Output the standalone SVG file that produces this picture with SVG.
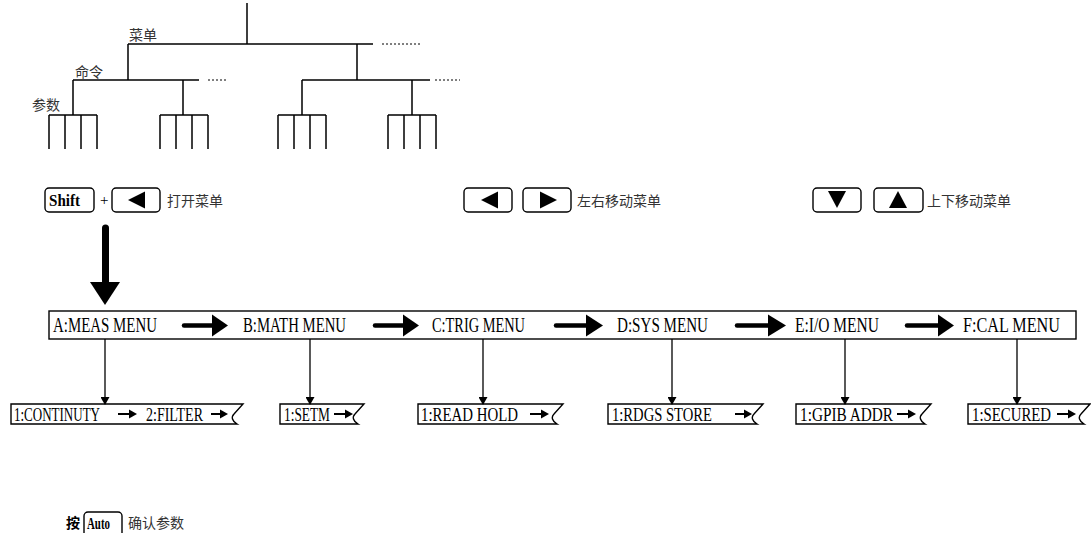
<svg xmlns="http://www.w3.org/2000/svg" width="1091" height="533" viewBox="0 0 1091 533">
<style>
.ln{stroke:#000;stroke-width:1.5;fill:none}
.dot{stroke:#000;stroke-width:1;fill:none;stroke-dasharray:2 2}
.cjk{font-family:"Noto Sans CJK SC","Noto Sans",sans-serif;font-size:14px;fill:#333}
.key{fill:#fff;stroke:#000;stroke-width:1.4}
.kt{font-family:"Liberation Serif",serif;font-weight:bold;font-size:16px}
.mt{font-family:"Liberation Serif",serif;font-size:20px}
.st{font-family:"Liberation Serif",serif;font-size:18px}
.box{fill:#fff;stroke:#000;stroke-width:1.4}
.thin{stroke:#000;stroke-width:1.3;fill:none}
</style>
<defs>
<marker id="ah" markerWidth="8" markerHeight="9" refX="7" refY="4.5" orient="auto" markerUnits="userSpaceOnUse">
<path d="M0,0 L8,4.5 L0,9 Z" fill="#000"/>
</marker>
</defs>
<rect width="1091" height="533" fill="#fff"/>

<g id="tree">
<path class="ln" d="M247,3V44 M128,44H373 M128,44V80 M357,44V80 M73,80H199 M302,80H430 M73,80V115 M183,80V115 M302,80V115 M412,80V115"/>
<path class="dot" d="M382,44H420 M208,80H228 M435,80H460"/>
<path class="ln" d="M49,115H97 M49,115V149 M65,115V149 M81,115V149 M97,115V149"/>
<path class="ln" d="M160,115H208 M160,115V149 M176,115V149 M192,115V149 M208,115V149"/>
<path class="ln" d="M278,115H326 M278,115V149 M294,115V149 M310,115V149 M326,115V149"/>
<path class="ln" d="M388,115H436 M388,115V149 M404,115V149 M420,115V149 M436,115V149"/>
<text class="cjk" x="129" y="40">菜单</text>
<text class="cjk" x="75" y="77">命令</text>
<text class="cjk" x="32" y="110">参数</text>
</g>

<g id="open-menu">
<rect class="key" x="45" y="188" width="49" height="24" rx="4"/>
<text class="kt" x="49" y="205.5" textLength="31" lengthAdjust="spacingAndGlyphs">Shift</text>
<text x="100" y="205" font-family="Liberation Serif,serif" font-size="15">+</text>
<rect class="key" x="112" y="188" width="48" height="24" rx="4"/>
<path d="M128,200 L145,191.5 L145,208.5 Z" fill="#000"/>
<text class="cjk" x="167" y="206" font-size="15">打开菜单</text>
</g>

<g id="left-right">
<rect class="key" x="464" y="188" width="48" height="24" rx="4"/>
<path d="M481,200 L498,191.5 L498,208.5 Z" fill="#000"/>
<rect class="key" x="523" y="188" width="48" height="24" rx="4"/>
<path d="M557,200 L540,191.5 L540,208.5 Z" fill="#000"/>
<text class="cjk" x="577" y="206" font-size="15">左右移动菜单</text>
</g>

<g id="up-down">
<rect class="key" x="813" y="188" width="48" height="24" rx="4"/>
<path d="M828,191 L846,191 L837,208 Z" fill="#000"/>
<rect class="key" x="874" y="188" width="49" height="24" rx="4"/>
<path d="M889,208 L907,208 L898,191 Z" fill="#000"/>
<text class="cjk" x="927" y="206" font-size="15">上下移动菜单</text>
</g>

<g id="menu-bar">
<rect class="box" x="49" y="311" width="1027" height="28"/>
</g>
<g id="menu-a"><text class="mt" x="53" y="332" textLength="104" lengthAdjust="spacingAndGlyphs">A:MEAS MENU</text></g>
<g id="menu-b"><text class="mt" x="243" y="332" textLength="103" lengthAdjust="spacingAndGlyphs">B:MATH MENU</text></g>
<g id="menu-c"><text class="mt" x="432" y="332" textLength="93" lengthAdjust="spacingAndGlyphs">C:TRIG MENU</text></g>
<g id="menu-d"><text class="mt" x="617" y="332" textLength="91" lengthAdjust="spacingAndGlyphs">D:SYS MENU</text></g>
<g id="menu-e"><text class="mt" x="795" y="332" textLength="84" lengthAdjust="spacingAndGlyphs">E:I/O MENU</text></g>
<g id="menu-f"><text class="mt" x="963" y="332" textLength="97" lengthAdjust="spacingAndGlyphs">F:CAL MENU</text></g>

<g id="sub-a">
<path class="box" d="M243,404 H11 V424 H237 C232,421 231,417 234,414 Z"/>
<text class="st" x="14" y="421" textLength="86" lengthAdjust="spacingAndGlyphs">1:CONTINUTY</text>
<text class="st" x="146" y="421" textLength="57" lengthAdjust="spacingAndGlyphs">2:FILTER</text>
<path d="M118,414H130" stroke="#000" stroke-width="2"/><path d="M129,409.5 L137,414 L129,418.5 Z"/>
<path d="M211,414H221" stroke="#000" stroke-width="2"/><path d="M220,409.5 L228,414 L220,418.5 Z"/>
</g>
<g id="sub-b">
<path class="box" d="M364,404 H280 V424 H358 C353,421 352,417 355,414 Z"/>
<text class="st" x="284" y="421" textLength="46" lengthAdjust="spacingAndGlyphs">1:SETM</text>
<path d="M334,414H346" stroke="#000" stroke-width="2"/><path d="M345,409.5 L353,414 L345,418.5 Z"/>
</g>
<g id="sub-c">
<path class="box" d="M563,404 H418 V424 H557 C552,421 551,417 554,414 Z"/>
<text class="st" x="421" y="421" textLength="97" lengthAdjust="spacingAndGlyphs">1:READ HOLD</text>
<path d="M530,414H542" stroke="#000" stroke-width="2"/><path d="M541,409.5 L549,414 L541,418.5 Z"/>
</g>
<g id="sub-d">
<path class="box" d="M763,404 H608 V424 H757 C752,421 751,417 754,414 Z"/>
<text class="st" x="612" y="421" textLength="100" lengthAdjust="spacingAndGlyphs">1:RDGS STORE</text>
<path d="M735,414H745" stroke="#000" stroke-width="2"/><path d="M744,409.5 L752,414 L744,418.5 Z"/>
</g>
<g id="sub-e">
<path class="box" d="M931,404 H796 V424 H925 C920,421 919,417 922,414 Z"/>
<text class="st" x="800" y="421" textLength="93" lengthAdjust="spacingAndGlyphs">1:GPIB ADDR</text>
<path d="M897,414H909" stroke="#000" stroke-width="2"/><path d="M908,409.5 L916,414 L908,418.5 Z"/>
</g>
<g id="sub-f">
<path class="box" d="M1090,404 H968 V424 H1084 C1079,421 1078,417 1081,414 Z"/>
<text class="st" x="972" y="421" textLength="79" lengthAdjust="spacingAndGlyphs">1:SECURED</text>
<path d="M1057,414H1069" stroke="#000" stroke-width="2"/><path d="M1068,409.5 L1076,414 L1068,418.5 Z"/>
</g>

<g id="confirm">
<text x="66" y="528" font-family="Noto Sans CJK SC,sans-serif" font-weight="bold" font-size="14">按</text>
<rect class="key" x="84" y="512" width="38" height="34" rx="4"/>
<text class="kt" x="87" y="529" textLength="23" lengthAdjust="spacingAndGlyphs">Auto</text>
<text class="cjk" x="128" y="528" font-size="15">确认参数</text>
</g>

<g id="connectors">
<path d="M105.5,228 V284" stroke="#000" stroke-width="7" stroke-linecap="round"/>
<path d="M90,282 L120,282 L105,305 Z" fill="#000"/>
<g stroke="#000" stroke-width="4.5" stroke-linecap="round">
<path d="M184,325.5H214"/><path d="M375,325.5H404"/><path d="M556,325.5H587"/><path d="M737,325.5H769"/><path d="M907,325.5H939"/>
</g>
<g fill="#000">
<path d="M212,314.5 L228,325.5 L212,336.5 Z"/>
<path d="M403,314.5 L419,325.5 L403,336.5 Z"/>
<path d="M586,314.5 L603,325.5 L586,336.5 Z"/>
<path d="M768,314.5 L786,325.5 L768,336.5 Z"/>
<path d="M938,314.5 L954,325.5 L938,336.5 Z"/>
</g>
<g class="thin" marker-end="url(#ah)">
<path d="M105,339V404"/><path d="M310,339V404"/><path d="M483,339V404"/><path d="M672,339V404"/><path d="M845,339V404"/><path d="M1017,339V404"/>
</g>
</g>
</svg>
